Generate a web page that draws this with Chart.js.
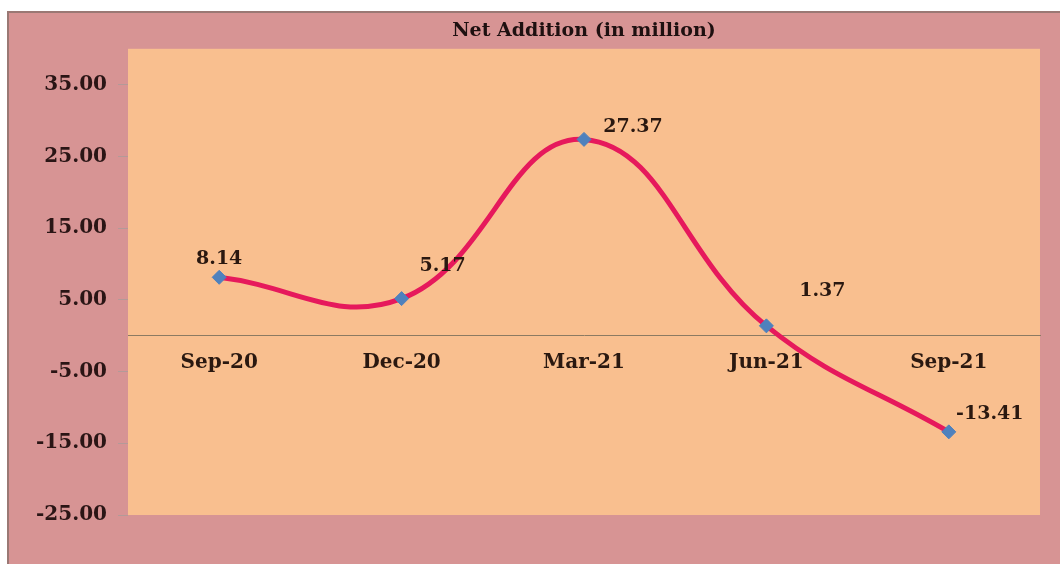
<!DOCTYPE html>
<html>
<head>
<meta charset="utf-8">
<script src="https://cdn.jsdelivr.net/npm/chart.js@4.4.1/dist/chart.umd.min.js"></script>
<style>
  html, body { margin: 0; padding: 0; background: #fff; }
  #wrap { width: 1060px; height: 564px; }
</style>
</head>
<body>
<div id="wrap"><canvas id="chart" width="1060" height="564"></canvas></div>
<script>
const quarters = ["Sep-20", "Dec-20", "Mar-21", "Jun-21", "Sep-21"];
const netAddition = [8.14, 5.17, 27.37, 1.37, -13.41];
const yTicks = [-25, -15, -5, 5, 15, 25, 35];

const serif = '"DejaVu Serif", "Liberation Serif", serif';

// page background, outer pink frame and the peach plot area
const backdrop = {
    id: 'backdrop',
    beforeDraw(chart) {
        const c = chart.ctx;
        const a = chart.chartArea;
        c.save();
        c.fillStyle = '#ffffff';
        c.fillRect(0, 0, chart.width, chart.height);
        c.fillStyle = '#d79494';
        c.fillRect(7, 11, chart.width - 7, chart.height - 11);
        c.strokeStyle = '#9a7874';
        c.lineWidth = 2;
        c.beginPath();
        c.moveTo(8, chart.height);
        c.lineTo(8, 12);
        c.lineTo(chart.width, 12);
        c.stroke();
        c.fillStyle = '#f9bf8f';
        c.fillRect(a.left, a.top, a.right - a.left, a.bottom - a.top);
        c.restore();
    }
};

// value labels beside each marker
const valueLabels = {
    id: 'valueLabels',
    afterDatasetsDraw(chart, args, opts) {
        const c = chart.ctx;
        const meta = chart.getDatasetMeta(0);
        c.save();
        c.font = 'bold 19px ' + serif;
        c.fillStyle = '#2a1810';
        c.textAlign = 'center';
        c.textBaseline = 'middle';
        meta.data.forEach((pt, i) => {
            const off = opts.offsets[i];
            c.fillText(netAddition[i].toFixed(2), pt.x + off[0], pt.y + off[1]);
        });
        c.restore();
    }
};

const config = {
    type: 'line',
    data: {
        labels: quarters,
        datasets: [{
            data: netAddition,
            borderColor: '#e6195c',
            borderWidth: 5,
            tension: 0.42,
            pointStyle: 'rectRot',
            pointRadius: 7,
            pointHoverRadius: 7,
            pointBackgroundColor: '#4f81bd',
            pointBorderColor: '#4f81bd',
            pointBorderWidth: 1,
        }]
    },
    options: {
        responsive: false,
        animation: false,
        layout: {
            padding: { left: 7, right: 20, top: 11, bottom: 49 }
        },
        plugins: {
            legend: { display: false },
            tooltip: { enabled: false },
            title: {
                display: true,
                fullSize: false,
                text: 'Net Addition (in million)',
                color: '#1e1010',
                font: { family: serif, size: 19, weight: 'bold' },
                padding: { top: 9, bottom: 6 }
            },
            valueLabels: {
                offsets: [[0, -18], [41, -33], [49, -12], [56, -35], [41, -18]]
            }
        },
        scales: {
            x: {
                position: { y: 0 },
                offset: true,
                grid: { display: false },
                border: { display: true, color: '#8c7a62', width: 1 },
                ticks: {
                    color: '#2a1810',
                    padding: 7,
                    font: { family: serif, size: 20, weight: 'bold' }
                }
            },
            y: {
                min: -25,
                max: 40,
                afterBuildTicks(scale) {
                    scale.ticks = yTicks.map(v => ({ value: v }));
                },
                afterFit(scale) {
                    scale.width = 121;
                },
                grid: {
                    display: true,
                    drawOnChartArea: false,
                    tickLength: 10,
                    color: '#b39a98'
                },
                border: { display: false },
                ticks: {
                    color: '#2a1515',
                    padding: 11,
                    font: { family: serif, size: 20, weight: 'bold' },
                    callback: v => v.toFixed(2)
                }
            }
        }
    },
    plugins: [backdrop, valueLabels]
};

const myChart = new Chart(document.getElementById('chart').getContext('2d'), config);
</script>
</body>
</html>
